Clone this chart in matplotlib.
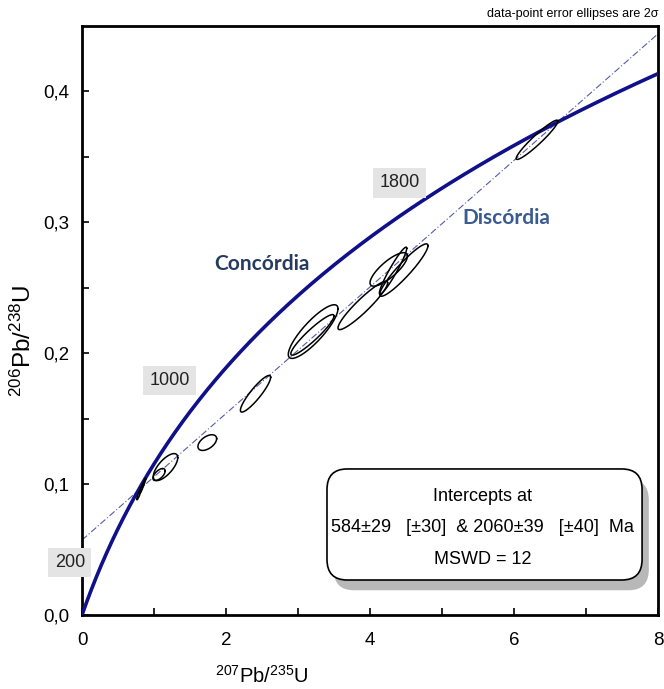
import numpy as np
import matplotlib
matplotlib.use("Agg")
import matplotlib.pyplot as plt
from matplotlib.patches import FancyBboxPatch

plt.rcParams['font.family'] = ['Liberation Sans', 'DejaVu Sans']
plt.rcParams['mathtext.default'] = 'regular'

# decay constants (1/yr)
L238 = 1.55125e-10
L235 = 9.8485e-10

# discordia intercepts (Ma), from the results box
lower_int = 584
upper_int = 2060

# concordia age labels (Ma)
age_labels = ["200", "1000", "1800"]
age_label_x = [-0.17, 1.22, 4.41]
age_label_y = [0.040, 0.179, 0.330]

# data points: 207Pb/235U, 2s, 206Pb/238U, 2s, rho
pb207_u235 = [0.79, 0.83, 0.86, 1.07, 1.16, 1.74, 2.41, 3.20, 3.21, 3.90, 4.26, 4.32, 4.47, 6.32]
err_x = [0.030, 0.030, 0.025, 0.085, 0.17, 0.13, 0.21, 0.30, 0.345, 0.345, 0.26, 0.19, 0.335, 0.29]
pb206_u238 = [0.092, 0.097, 0.101, 0.1073, 0.113, 0.1317, 0.169, 0.214, 0.2165, 0.2365, 0.264, 0.263, 0.2635, 0.363]
err_y = [0.004, 0.004, 0.0035, 0.0046, 0.0103, 0.006, 0.014, 0.0155, 0.0205, 0.0185, 0.0128, 0.018, 0.020, 0.015]
rho = [0.9, 0.9, 0.9, 0.6, 0.7, 0.5, 0.9, 0.93, 0.85, 0.93, 0.8, 0.95, 0.93, 0.95]

xticks = [0, 2, 4, 6, 8]
xtick_labels = ["0", "2", "4", "6", "8"]
yticks = [0.0, 0.1, 0.2, 0.3, 0.4]
ytick_labels = ["0,0", "0,1", "0,2", "0,3", "0,4"]

fig = plt.figure(figsize=(6.64, 6.89), dpi=100)
ax = fig.add_axes([0.1235, 0.1074, 0.8675, 0.855])

# concordia
t = np.linspace(0, 2.6e9, 400)
cx = np.exp(L235 * t) - 1
cy = np.exp(L238 * t) - 1
ax.plot(cx, cy, color='#10108a', lw=2.6, zorder=3)

# discordia through the two intercepts, across the whole plot
t1, t2 = lower_int * 1e6, upper_int * 1e6
x1, y1 = np.exp(L235 * t1) - 1, np.exp(L238 * t1) - 1
x2, y2 = np.exp(L235 * t2) - 1, np.exp(L238 * t2) - 1
slope = (y2 - y1) / (x2 - x1)
dx = np.array([0, 8])
ax.plot(dx, y1 + slope * (dx - x1), color='#5a5aa8', lw=0.8,
        dashes=[6, 2, 1, 2], zorder=2)

# error ellipses
th = np.linspace(0, 2 * np.pi, 200)
for i in range(len(pb207_u235)):
    ex = pb207_u235[i] + err_x[i] * np.cos(th)
    ey = pb206_u238[i] + err_y[i] * (rho[i] * np.cos(th) + np.sqrt(1 - rho[i] ** 2) * np.sin(th))
    ax.plot(ex, ey, color='black', lw=1.1, zorder=4)

# age labels on concordia
for lab, lx, ly in zip(age_labels, age_label_x, age_label_y):
    ax.text(lx, ly, lab, ha='center', va='center', fontsize=13, color='#222222',
            bbox=dict(boxstyle='square,pad=0.35', fc='#e4e4e4', ec='none'),
            clip_on=False, zorder=5)

ax.text(2.5, 0.268, "Concórdia", fontsize=15, fontweight='bold', color='#263b5e',
        family=['Lato', 'DejaVu Sans'], ha='center', va='center')
ax.text(5.89, 0.303, "Discórdia", fontsize=15, fontweight='bold', color='#3a5b92',
        family=['Lato', 'DejaVu Sans'], ha='center', va='center')

# results box with shadow
shadow = FancyBboxPatch((0.437, 0.042), 0.547, 0.1885, transform=ax.transAxes,
                        boxstyle='round,pad=0,rounding_size=0.035',
                        fc='#b8b8b8', ec='none', zorder=6)
ax.add_patch(shadow)
box = FancyBboxPatch((0.4253, 0.0594), 0.547, 0.1885, transform=ax.transAxes,
                     boxstyle='round,pad=0,rounding_size=0.035',
                     fc='white', ec='black', lw=1.2, zorder=7)
ax.add_patch(box)
ax.text(0.696, 0.202, "Intercepts at", transform=ax.transAxes, ha='center', va='center',
        fontsize=13, zorder=8)
ax.text(0.696, 0.148, "584±29   [±30]  & 2060±39   [±40]  Ma", transform=ax.transAxes,
        ha='center', va='center', fontsize=13, zorder=8)
ax.text(0.696, 0.0934, "MSWD = 12", transform=ax.transAxes, ha='center', va='center',
        fontsize=13, zorder=8)

fig.text(0.991, 0.979, "data-point error ellipses are 2σ", ha='right', va='center', fontsize=9)

ax.set_xlim(0, 8)
ax.set_ylim(0, 0.45)
ax.set_xticks(xticks)
ax.set_xticklabels(xtick_labels)
ax.set_yticks(yticks)
ax.set_yticklabels(ytick_labels)
ax.set_xticks([1, 3, 5, 7], minor=True)
ax.set_yticks([0.05, 0.15, 0.25, 0.35], minor=True)
ax.tick_params(which='both', direction='in', length=5, width=1.2, labelsize=13.5)
ax.tick_params(axis='x', pad=12)
ax.tick_params(axis='y', pad=9)
for s in ax.spines.values():
    s.set_linewidth(2)

ax.set_xlabel("$^{207}$Pb/$^{235}$U", fontsize=14.5, va='center')
ax.set_ylabel("$^{206}$Pb/$^{238}$U", fontsize=17.5, va='center')
ax.xaxis.set_label_coords(0.3125, -0.1036)
ax.yaxis.set_label_coords(-0.1024, 0.465)

fig.savefig("out.png", dpi=100)
